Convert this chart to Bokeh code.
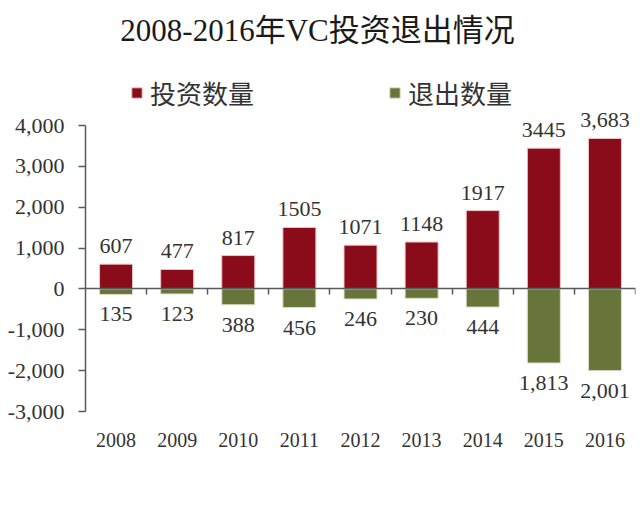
import numpy as np
from bokeh.plotting import figure
from bokeh.models import (ColumnDataSource, Range1d, FixedTicker, LinearAxis,
                          NumeralTickFormatter, Label, Legend, LegendItem)
from bokeh.embed import file_html
from bokeh.resources import INLINE
from bokeh.core.properties import value

# ---- data ----
years = ["2008", "2009", "2010", "2011", "2012", "2013", "2014", "2015", "2016"]
invest = [607, 477, 817, 1505, 1071, 1148, 1917, 3445, 3683]
exits = [135, 123, 388, 456, 246, 230, 444, 1813, 2001]
invest_labels = ["607", "477", "817", "1505", "1071", "1148", "1917", "3445", "3,683"]
exit_labels = ["135", "123", "388", "456", "246", "230", "444", "1,813", "2,001"]
y_ticks = [-3000, -2000, -1000, 0, 1000, 2000, 3000, 4000]
series_names = ["投资数量", "退出数量"]
title_text = "2008-2016年VC投资退出情况"

# ---- styles / layout ----
RED = "#8A0B19"
GREEN = "#67753A"
AXIS = "#5a5a5a"
TEXT = "#333333"
SERIF = "Liberation Serif"
CJK = '"Liberation Serif", "Noto Sans CJK SC"'

W, H = 640, 512
LEFT, RIGHT, BOTTOM = 85, 5, 101
AXIS_TOP_PX = 125            # pixel row of the top tick of the value axis
FRAME_H = H - BOTTOM         # frame spans from the top of the canvas
axis_px = FRAME_H - AXIS_TOP_PX
y_lo, y_hi = y_ticks[0], y_ticks[-1]
y_end = y_hi + (AXIS_TOP_PX / axis_px) * (y_hi - y_lo)

n = len(years)
centers = np.arange(n) + 0.5
src = ColumnDataSource(dict(
    x=centers,
    inv=invest,
    neg=[-v for v in exits],
    inv_label=invest_labels,
    exit_label=exit_labels,
))

p = figure(width=W, height=H, x_range=Range1d(0, n), y_range=Range1d(y_lo, y_end),
           output_backend="svg", toolbar_location=None,
           min_border_left=LEFT, min_border_right=RIGHT, min_border_top=0,
           min_border_bottom=BOTTOM)
p.outline_line_color = None
p.xgrid.grid_line_color = None
p.ygrid.grid_line_color = None
p.background_fill_color = "white"
p.border_fill_color = "white"

# y axis
p.yaxis.ticker = FixedTicker(ticks=y_ticks)
p.yaxis.bounds = (y_lo, y_hi)
p.yaxis.formatter = NumeralTickFormatter(format="0,0")
p.yaxis.major_tick_out = 7
p.yaxis.major_tick_in = 0
p.yaxis.minor_tick_line_color = None
p.yaxis.axis_line_color = AXIS
p.yaxis.axis_line_width = 1.5
p.yaxis.major_tick_line_color = AXIS
p.yaxis.major_tick_line_width = 1.5
p.yaxis.major_label_text_font = SERIF
p.yaxis.major_label_text_font_size = "22px"
p.yaxis.major_label_text_color = TEXT
p.yaxis.major_label_standoff = 14

# x labels axis (bottom)
p.xaxis.ticker = FixedTicker(ticks=list(centers))
p.xaxis.major_label_overrides = {float(c): y for c, y in zip(centers, years)}
p.xaxis.axis_line_color = None
p.xaxis.major_tick_line_color = None
p.xaxis.minor_tick_line_color = None
p.xaxis.major_label_text_font = SERIF
p.xaxis.major_label_text_font_size = "20px"
p.xaxis.major_label_text_color = TEXT
p.xaxis.major_label_standoff = 15

# zero axis with category boundary ticks
zero_axis = LinearAxis(fixed_location=0, ticker=FixedTicker(ticks=list(range(1, n + 1))))
zero_axis.axis_line_color = AXIS
zero_axis.axis_line_width = 1.5
zero_axis.major_tick_line_color = AXIS
zero_axis.major_tick_line_width = 1.5
zero_axis.major_tick_out = 6
zero_axis.major_tick_in = 0
zero_axis.minor_tick_line_color = None
zero_axis.major_label_text_font_size = "0px"
zero_axis.major_label_text_color = None
p.add_layout(zero_axis, "below")

# bars
r1 = p.vbar(x="x", top="inv", bottom=0, width=0.54, fill_color=RED,
            line_color="#EFC6C8", line_width=1, source=src)
r2 = p.vbar(x="x", top=0, bottom="neg", width=0.54, fill_color=GREEN,
            line_color="#DCE0C6", line_width=1, source=src)

# data labels
p.text(x="x", y="inv", text="inv_label", text_align="center", text_baseline="middle",
       y_offset=-18, text_font=value(SERIF), text_font_size="22px", text_color=TEXT, source=src)
p.text(x="x", y="neg", text="exit_label", text_align="center", text_baseline="middle",
       y_offset=20, text_font=value(SERIF), text_font_size="22px", text_color=TEXT, source=src)

# legend (inside the frame, above the value axis)
legend = Legend(items=[LegendItem(label=series_names[0], renderers=[r1]),
                       LegendItem(label=series_names[1], renderers=[r2])],
                location=(45, FRAME_H - 95 - 16), orientation="horizontal", spacing=134,
                padding=0, margin=0, border_line_color=None, background_fill_alpha=0,
                glyph_width=13, glyph_height=13, label_standoff=7, label_height=32,
                label_text_font=CJK, label_text_font_size="26px", label_text_color=TEXT)
p.add_layout(legend)

# title
title = Label(x=232, y=FRAME_H - 30, x_units="screen", y_units="screen", text=title_text,
              text_align="center", text_baseline="middle", text_font=CJK,
              text_font_size="31px", text_color="#1a1a1a")
p.add_layout(title)

open("out.html", "w").write(file_html(p, INLINE))
